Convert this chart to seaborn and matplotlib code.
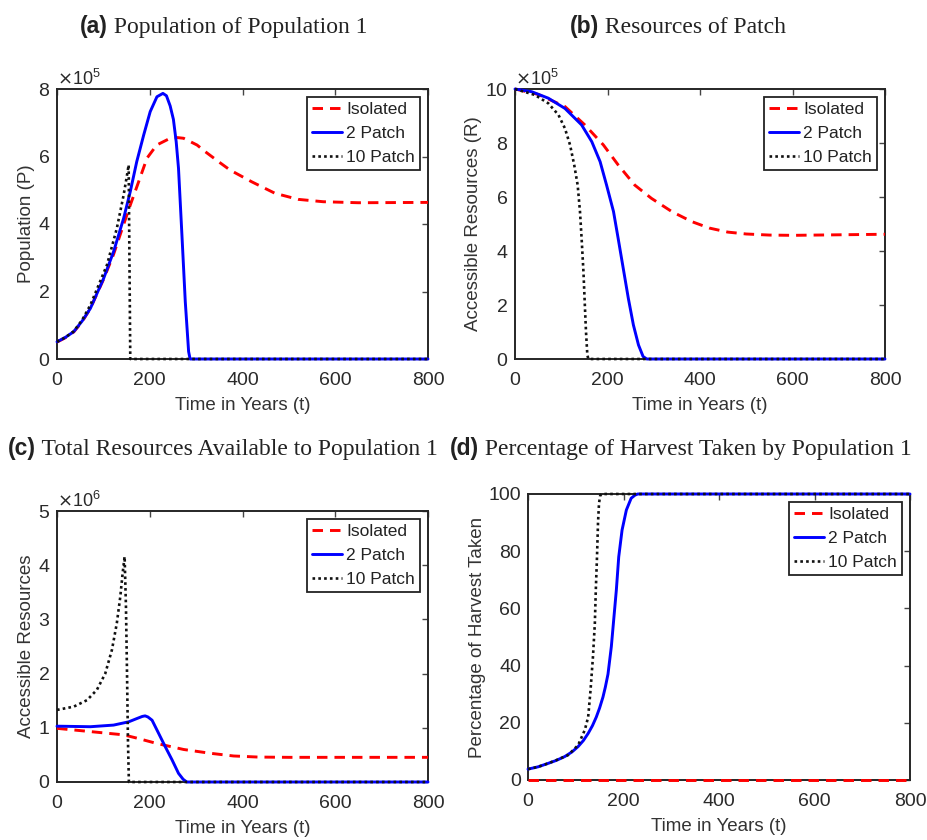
import numpy as np
import pandas as pd
import matplotlib
matplotlib.use("Agg")
import matplotlib.pyplot as plt
import seaborn as sns

sns.set_style("white")
plt.rcParams["font.family"] = ["Liberation Sans", "DejaVu Sans"]

# ---------------- data ----------------
series_names = ["Isolated", "2 Patch", "10 Patch"]
x_ticks = [0, 200, 400, 600, 800]

# (a) Population of Population 1  (x 1e5)
ta_iso = [0, 18, 36, 54, 72, 100, 122, 144, 158, 176, 194, 215, 244, 260, 273, 302, 320, 350, 373, 420, 470, 520, 574, 650, 800]
pa_iso = [0.5, 0.63, 0.8, 1.1, 1.5, 2.35, 3.1, 4.0, 4.56, 5.25, 5.95, 6.34, 6.54, 6.56, 6.54, 6.34, 6.14, 5.83, 5.6, 5.25, 4.91, 4.73, 4.66, 4.63, 4.64]
ta_two = [0, 18, 36, 54, 72, 100.6, 122, 143.7, 158, 172, 187, 201, 215.5, 228.4, 236, 244, 251, 257, 262, 269.4, 276.6, 283.8, 287, 300, 800]
pa_two = [0.51, 0.64, 0.81, 1.12, 1.5, 2.39, 3.18, 4.17, 4.96, 5.85, 6.64, 7.33, 7.77, 7.87, 7.8, 7.5, 7.1, 6.44, 5.65, 3.67, 1.7, 0.22, 0.0, 0.0, 0.0]
ta_ten = [0, 18, 36, 54, 72, 107.8, 129, 143.7, 151, 154.5, 158, 170, 800]
pa_ten = [0.51, 0.64, 0.82, 1.15, 1.6, 2.79, 3.87, 4.86, 5.45, 5.75, 0.0, 0.0, 0.0]

# (b) Resources of Patch (x 1e5)
tb_iso = [0, 50, 108, 151, 191, 223, 259, 295, 339, 382, 420, 460, 500, 550, 600, 700, 800]
rb_iso = [10, 9.8, 9.35, 8.67, 7.93, 7.19, 6.44, 5.95, 5.46, 5.09, 4.85, 4.7, 4.63, 4.59, 4.58, 4.6, 4.62]
tb_two = [0, 36, 72, 108, 144, 166, 184, 198, 213, 223, 234, 245, 256, 267, 277, 285, 300, 800]
rb_two = [10, 9.9, 9.66, 9.28, 8.67, 8.05, 7.31, 6.44, 5.46, 4.47, 3.36, 2.25, 1.26, 0.52, 0.09, 0.0, 0.0, 0.0]
tb_ten = [0, 43, 72, 94, 108, 119, 128, 135.5, 140.5, 144, 148, 151, 153.5, 156.4, 158.6, 170, 800]
rb_ten = [10, 9.78, 9.47, 9.04, 8.54, 7.93, 7.19, 6.44, 5.46, 4.47, 3.23, 2.0, 1.01, 0.15, 0.0, 0.0, 0.0]

# (c) Total Resources Available to Population 1 (x 1e6)
tc_iso = [0, 72, 143.7, 172, 215.5, 273, 330.5, 381, 434, 500, 650, 800]
rc_iso = [0.99, 0.93, 0.87, 0.81, 0.71, 0.6, 0.53, 0.48, 0.46, 0.455, 0.455, 0.455]
tc_two = [0, 72, 122, 154.5, 172, 184, 190, 196, 205, 219, 233.5, 248, 262, 272, 276.6, 280, 300, 800]
rc_two = [1.03, 1.02, 1.05, 1.11, 1.17, 1.21, 1.22, 1.2, 1.14, 0.9, 0.65, 0.41, 0.16, 0.05, 0.02, 0.0, 0.0, 0.0]
tc_ten = [0, 36, 64.7, 86, 104, 118.5, 129, 136.5, 141.5, 145.8, 148.7, 151, 153, 155, 170, 800]
rc_ten = [1.33, 1.39, 1.51, 1.7, 2.0, 2.44, 2.93, 3.42, 3.85, 4.16, 3.23, 2.0, 0.77, 0.0, 0.0, 0.0]

# (d) Percentage of Harvest Taken by Population 1
td_iso = [0, 800]
hd_iso = [0, 0]
td_two = [0, 21, 42, 60, 77, 92, 105, 116, 126, 135, 143, 150, 157, 162, 167.5, 174.5, 180, 185, 190, 197, 206, 216, 224, 230, 800]
hd_two = [3.8, 4.6, 5.8, 6.9, 8.2, 9.8, 11.7, 13.8, 16.3, 19, 22, 25.2, 29, 32.5, 37, 46.6, 57, 66.4, 78, 87.4, 94.4, 98.5, 99.6, 100, 100]
td_ten = [0, 21, 42, 60, 84, 105, 119, 126, 131, 136, 140, 142, 144.5, 146.6, 148.7, 151, 153.6, 800]
hd_ten = [3.8, 4.6, 5.8, 7.0, 8.7, 12.2, 17.5, 22, 31.5, 43, 54.8, 66.4, 78, 89.8, 96.7, 99.3, 100, 100]

panels = [
    dict(series=[(ta_iso, pa_iso), (ta_two, pa_two), (ta_ten, pa_ten)], scale=1e5,
         yticks=[0, 2, 4, 6, 8], ylim=8, ylabel="Population (P)", exp=5,
         tag="(a)", title=" Population of Population 1",
         rect=[57, 89, 428, 359], tpos=(80, 33)),
    dict(series=[(tb_iso, rb_iso), (tb_two, rb_two), (tb_ten, rb_ten)], scale=1e5,
         yticks=[0, 2, 4, 6, 8, 10], ylim=10, ylabel="Accessible Resources (R)", exp=5,
         tag="(b)", title=" Resources of Patch",
         rect=[515, 89, 885, 359], tpos=(570, 33)),
    dict(series=[(tc_iso, rc_iso), (tc_two, rc_two), (tc_ten, rc_ten)], scale=1e6,
         yticks=[0, 1, 2, 3, 4, 5], ylim=5, ylabel="Accessible Resources", exp=6,
         tag="(c)", title=" Total Resources Available to Population 1",
         rect=[57, 511, 428, 782], tpos=(8, 455)),
    dict(series=[(td_iso, hd_iso), (td_two, hd_two), (td_ten, hd_ten)], scale=1,
         yticks=[0, 20, 40, 60, 80, 100], ylim=100, ylabel="Percentage of Harvest Taken", exp=None,
         tag="(d)", title=" Percentage of Harvest Taken by Population 1",
         rect=[528, 494, 910, 780], tpos=(450, 455)),
]

styles = [
    dict(color="#ff0000", linestyle=(0, (3.6, 2.4)), linewidth=2.1),
    dict(color="#0000ff", linestyle="-", linewidth=2.1),
    dict(color="#111111", linestyle=(0, (1, 1.2)), linewidth=1.9),
]

W, H = 927, 840
fig = plt.figure(figsize=(W / 100, H / 100), dpi=100)
fig.patch.set_facecolor("white")

for p in panels:
    l, t, r, b = p["rect"]
    ax = fig.add_axes([l / W, 1 - b / H, (r - l) / W, (b - t) / H])
    for z, ((tt, vv), name, st) in enumerate(zip(p["series"], series_names, styles)):
        df = pd.DataFrame({"t": tt, "v": np.array(vv, dtype=float) * p["scale"]})
        sns.lineplot(data=df, x="t", y="v", ax=ax, estimator=None, sort=False,
                     label=name, clip_on=False, zorder=3 + z, **st)
    ax.set_xlim(0, 800)
    ax.set_ylim(0, p["ylim"] * p["scale"])
    ax.set_xticks(x_ticks)
    ax.set_yticks(np.array(p["yticks"]) * p["scale"])
    if p["exp"] is not None:
        ax.ticklabel_format(axis="y", style="sci", scilimits=(p["exp"], p["exp"]), useMathText=True)
        ax.yaxis.get_offset_text().set_fontsize(13)
        ax.yaxis.get_offset_text().set_color("#333333")
    ax.tick_params(direction="in", top=True, right=True, length=4, width=1,
                   labelsize=14, colors="#444444")
    ax.tick_params(axis="both", labelcolor="#2a2a2a")
    ax.tick_params(axis="x", pad=9)
    ax.tick_params(axis="y", pad=5)
    for s in ax.spines.values():
        s.set_color("#262626")
        s.set_linewidth(1.4)
    ax.set_xlabel("Time in Years (t)", fontsize=13.5, color="#333333", labelpad=6)
    ax.set_ylabel(p["ylabel"], fontsize=13.5, color="#333333", labelpad=2)
    leg = ax.legend(loc="upper right", fontsize=12.5, frameon=True, fancybox=False,
                    edgecolor="#222222", framealpha=1, handlelength=1.7, handletextpad=0.25,
                    labelspacing=0.5, borderpad=0.3, borderaxespad=0.45)
    leg.set_zorder(10)
    leg.get_frame().set_linewidth(1.3)
    for txt in leg.get_texts():
        txt.set_color("#222222")

    # title: bold sans tag + serif text
    x0, y0 = p["tpos"]
    tg = fig.text(x0 / W, 1 - y0 / H, p["tag"], fontsize=16.5, fontweight="bold",
                  family=["Liberation Sans", "DejaVu Sans"], color="#222222", va="baseline", ha="left")
    fig.canvas.draw()
    bb = tg.get_window_extent()
    fig.text(bb.x1 / W, 1 - y0 / H, p["title"], fontsize=17,
             family=["Liberation Serif", "DejaVu Serif"], color="#222222", va="baseline", ha="left")

fig.savefig("out.png", dpi=100, facecolor="white")
